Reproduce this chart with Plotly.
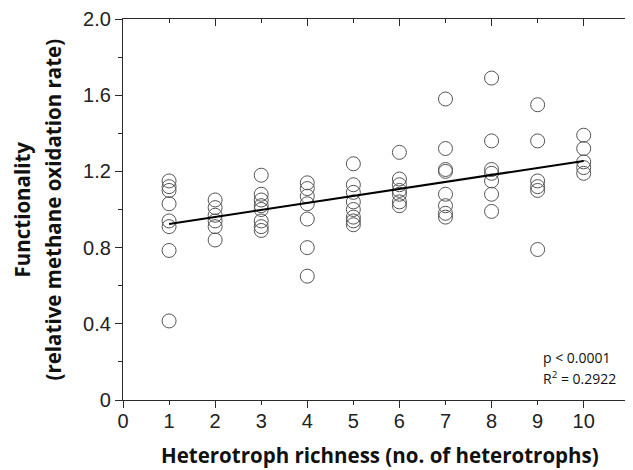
import plotly.graph_objects as go

# Data (functionality per richness level)
richness = [1, 2, 3, 4, 5, 6, 7, 8, 9, 10]
func_r1 = [1.15, 1.12, 1.10, 1.03, 0.94, 0.91, 0.785, 0.415]
func_r2 = [1.05, 1.01, 0.97, 0.94, 0.91, 0.84]
func_r3 = [1.18, 1.08, 1.05, 1.02, 1.00, 0.94, 0.91, 0.89]
func_r4 = [1.14, 1.11, 1.07, 1.03, 0.95, 0.80, 0.65]
func_r5 = [1.24, 1.13, 1.09, 1.04, 1.00, 0.96, 0.94, 0.92]
func_r6 = [1.30, 1.16, 1.13, 1.10, 1.08, 1.04, 1.02]
func_r7 = [1.58, 1.32, 1.21, 1.20, 1.08, 1.02, 0.98, 0.96]
func_r8 = [1.69, 1.36, 1.21, 1.19, 1.15, 1.08, 0.99]
func_r9 = [1.55, 1.36, 1.15, 1.12, 1.10, 0.79]
func_r10 = [1.39, 1.32, 1.25, 1.22, 1.19]
groups = [func_r1, func_r2, func_r3, func_r4, func_r5,
          func_r6, func_r7, func_r8, func_r9, func_r10]

fit_x = [1, 10]
fit_y = [0.924, 1.255]

x_ticks = [0, 1, 2, 3, 4, 5, 6, 7, 8, 9, 10]
y_ticks = [0, 0.4, 0.8, 1.2, 1.6, 2.0]
y_ticktext = ["0", "0.4", "0.8", "1.2", "1.6", "2.0"]
stats_text = ["p < 0.0001", "R<sup>2</sup> = 0.2922"]

xs, ys = [], []
for r, vals in zip(richness, groups):
    xs += [r] * len(vals)
    ys += vals

AX = "#2a2a2a"
TICKFONT = dict(family="Liberation Sans, Arial", size=20, color="#222222")
XR = [0, 11.07]
YR = [0, 2.0]

fig = go.Figure()
fig.add_trace(go.Scatter(
    x=xs, y=ys, mode="markers",
    marker=dict(symbol="circle-open", size=14, color="#555555",
                line=dict(width=1, color="#555555")),
    showlegend=False, hoverinfo="skip"))
fig.add_trace(go.Scatter(
    x=fit_x, y=fit_y, mode="lines",
    line=dict(color="#000000", width=2),
    showlegend=False, hoverinfo="skip"))

# page body has an 8px margin: shift the figure so the plot lands in place
fig.update_layout(
    width=625, height=462,
    margin=dict(l=115, r=0, t=11, b=70),
    paper_bgcolor="white", plot_bgcolor="white",
    xaxis=dict(range=XR, tickmode="array",
               tickvals=x_ticks[::2], ticktext=[str(v) for v in x_ticks[::2]],
               ticks="outside", ticklen=7, tickwidth=1.3, tickcolor=AX,
               ticklabelstandoff=-4,
               minor=dict(dtick=1, tick0=0, ticks="outside", ticklen=4,
                          tickwidth=1.3, tickcolor=AX, showgrid=False),
               showline=True, linecolor=AX, linewidth=1.3,
               showgrid=False, zeroline=False, tickfont=TICKFONT),
    xaxis3=dict(range=XR, overlaying="x", anchor="y", side="bottom",
                tickmode="array", tickvals=x_ticks[1::2],
                ticktext=[str(v) for v in x_ticks[1::2]],
                ticks="outside", ticklen=7, tickcolor="rgba(0,0,0,0)",
                ticklabelstandoff=-4,
                showline=False, showgrid=False, zeroline=False,
                tickfont=TICKFONT),
    xaxis2=dict(range=XR, overlaying="x", anchor="y", side="top",
                dtick=2, tick0=0, ticks="inside", ticklen=7, tickwidth=1.3,
                tickcolor=AX,
                minor=dict(dtick=1, tick0=0, ticks="inside", ticklen=4,
                           tickwidth=1.3, tickcolor=AX, showgrid=False),
                showticklabels=False, showline=True, linecolor=AX,
                linewidth=1.3, showgrid=False, zeroline=False),
    yaxis=dict(range=YR, tickmode="array", tickvals=y_ticks,
               ticktext=y_ticktext,
               ticks="outside", ticklen=7, tickwidth=1.3, tickcolor=AX,
               minor=dict(dtick=0.2, tick0=0, ticks="outside", ticklen=4,
                          tickwidth=1.3, tickcolor=AX, showgrid=False),
               showline=True, linecolor=AX, linewidth=1.3,
               showgrid=False, zeroline=False, tickfont=TICKFONT),
    yaxis2=dict(range=YR, overlaying="y", anchor="x", side="right",
                dtick=0.4, tick0=0, ticks="inside", ticklen=7, tickwidth=1.3,
                tickcolor=AX,
                minor=dict(dtick=0.2, tick0=0, ticks="inside", ticklen=4,
                           tickwidth=1.3, tickcolor=AX, showgrid=False),
                showticklabels=False, showline=True, linecolor=AX,
                linewidth=1.3, showgrid=False, zeroline=False),
)

# invisible traces so overlay axes render
fig.add_trace(go.Scatter(x=[None], y=[None], xaxis="x2", yaxis="y2",
                         showlegend=False, hoverinfo="skip"))
fig.add_trace(go.Scatter(x=[None], y=[None], xaxis="x3", yaxis="y",
                         showlegend=False, hoverinfo="skip"))

TITLEFONT = dict(family="Open Sans, Noto Sans", size=20.5, color="#111111")
fig.add_annotation(text="<b>Heterotroph richness (no. of heterotrophs)</b>",
                   xref="paper", yref="paper", x=0.5, y=0, xshift=2,
                   yshift=-55, showarrow=False, font=TITLEFONT,
                   xanchor="center", yanchor="middle")
fig.add_annotation(text="<b>Functionality</b>",
                   xref="paper", yref="paper", x=0, y=0.5, xshift=-102,
                   showarrow=False, font=TITLEFONT, textangle=-90,
                   xanchor="center", yanchor="middle")
fig.add_annotation(text="<b>(relative methane oxidation rate)</b>",
                   xref="paper", yref="paper", x=0, y=0.5, xshift=-71,
                   showarrow=False, font=TITLEFONT, textangle=-90,
                   xanchor="center", yanchor="middle")

STATFONT = dict(family="Open Sans, Noto Sans", size=14, color="#111111")
fig.add_annotation(text=stats_text[0], xref="paper", yref="paper",
                   x=0, y=0, xshift=418, yshift=43, showarrow=False,
                   font=STATFONT, xanchor="left", yanchor="middle")
fig.add_annotation(text=stats_text[1], xref="paper", yref="paper",
                   x=0, y=0, xshift=418, yshift=22, showarrow=False,
                   font=STATFONT, xanchor="left", yanchor="middle")

fig.write_html("out.html")
